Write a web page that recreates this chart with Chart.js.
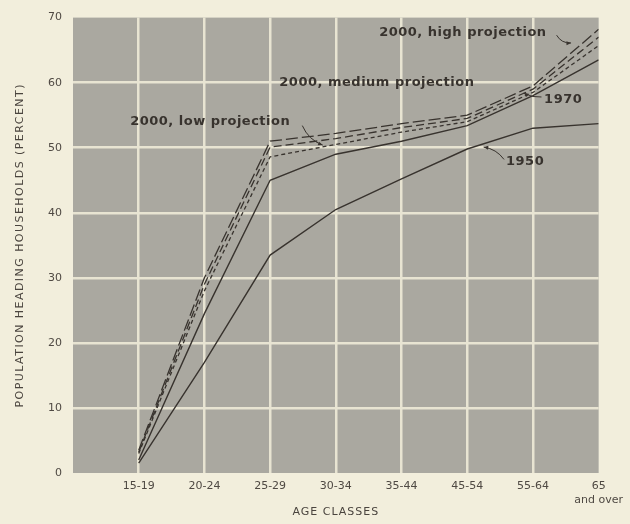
<!DOCTYPE html>
<html>
<head>
<meta charset="utf-8">
<script src="https://cdn.jsdelivr.net/npm/chart.js@4/dist/chart.umd.min.js"></script>
<style>
  html, body { margin: 0; padding: 0; background: #f2eedc; }
  canvas { display: block; }
</style>
</head>
<body>
<canvas id="myChart" width="630" height="524"></canvas>
<script>
// age classes along the bottom, first slot on the axis is left empty
const AGE_CLASSES = ['15-19', '20-24', '25-29', '30-34', '35-44', '45-54', '55-64', ['65', 'and over']];
const Y_TICKS = [0, 10, 20, 30, 40, 50, 60, 70];

// percent of population heading households
const HH_1950 = [1.5, 17, 33.5, 40.5, 45.2, 49.8, 53, 53.7];
const HH_1970 = [2, 24.5, 45, 49, 51, 53.4, 58, 63.5];
const HH_2000_HIGH = [3.5, 30, 51, 52.2, 53.7, 55, 59.5, 68.2];
const HH_2000_MED = [3.2, 29, 50.1, 51.4, 53.1, 54.5, 59, 67];
const HH_2000_LOW = [3, 28, 48.6, 50.5, 52.4, 54, 58.5, 65.7];

const INK = '#38332e';
const FONT = '"DejaVu Sans", sans-serif';

function points(arr) {
    return arr.map((v, i) => ({ x: i + 1, y: v }));
}

// labels and leader arrows, placed in axis units
const notes = [
    { text: '2000, high projection', x: 4.66, y: 67.7 },
    { text: '2000, medium projection', x: 3.14, y: 60.0 },
    { text: '2000, low projection', x: 0.87, y: 54.0 },
    { text: '1970', x: 7.17, y: 57.4 },
    { text: '1950', x: 6.59, y: 47.8 }
];
const arrows = [
    { from: [7.36, 67.3], to: [7.58, 66.1], bend: -5 },
    { from: [3.49, 53.4], to: [3.80, 50.4], bend: -6 },
    { from: [7.13, 57.8], to: [6.86, 58.4], bend: 3 },
    { from: [6.56, 48.2], to: [6.25, 50.1], bend: -5 }
];

const paperPlugin = {
    id: 'paper',
    beforeDraw(chart) {
        const ctx = chart.ctx, a = chart.chartArea;
        ctx.save();
        ctx.fillStyle = '#f2eedc';
        ctx.fillRect(0, 0, chart.width, chart.height);
        ctx.fillStyle = '#aaa8a0';
        ctx.fillRect(a.left, a.top, a.right - a.left, a.bottom - a.top);
        ctx.restore();
    },
    afterDraw(chart) {
        const ctx = chart.ctx, a = chart.chartArea;
        const xs = chart.scales.x, ys = chart.scales.y;
        ctx.save();
        ctx.fillStyle = INK;
        ctx.strokeStyle = INK;

        // notes
        ctx.font = 'bold 13px ' + FONT;
        ctx.letterSpacing = '0.5px';
        ctx.textAlign = 'left';
        ctx.textBaseline = 'middle';
        notes.forEach(n => {
            ctx.fillText(n.text, xs.getPixelForValue(n.x), ys.getPixelForValue(n.y));
        });

        // leader arrows
        ctx.lineWidth = 1;
        arrows.forEach(ar => {
            const x0 = xs.getPixelForValue(ar.from[0]), y0 = ys.getPixelForValue(ar.from[1]);
            const x1 = xs.getPixelForValue(ar.to[0]), y1 = ys.getPixelForValue(ar.to[1]);
            const mx = (x0 + x1) / 2, my = (y0 + y1) / 2;
            const len = Math.hypot(x1 - x0, y1 - y0);
            const cx = mx + ar.bend * (y1 - y0) / len;
            const cy = my - ar.bend * (x1 - x0) / len;
            ctx.beginPath();
            ctx.moveTo(x0, y0);
            ctx.quadraticCurveTo(cx, cy, x1, y1);
            ctx.stroke();
            const ang = Math.atan2(y1 - cy, x1 - cx);
            ctx.beginPath();
            ctx.moveTo(x1, y1);
            ctx.lineTo(x1 - 5 * Math.cos(ang - 0.4), y1 - 5 * Math.sin(ang - 0.4));
            ctx.lineTo(x1 - 5 * Math.cos(ang + 0.4), y1 - 5 * Math.sin(ang + 0.4));
            ctx.closePath();
            ctx.fill();
        });

        // axis titles
        ctx.fillStyle = '#4a443e';
        ctx.font = '11px ' + FONT;
        ctx.textAlign = 'center';
        ctx.letterSpacing = '1.45px';
        ctx.save();
        ctx.translate(20, (a.top + a.bottom) / 2);
        ctx.rotate(-Math.PI / 2);
        ctx.fillText('POPULATION HEADING HOUSEHOLDS (PERCENT)', 0, 0);
        ctx.restore();
        ctx.letterSpacing = '1px';
        ctx.fillText('AGE CLASSES', (a.left + a.right) / 2, 512);
        ctx.restore();
    }
};

function line(label, data, dash, width) {
    return {
        label: label,
        data: points(data),
        borderColor: INK,
        borderWidth: width,
        borderDash: dash,
        pointRadius: 0,
        fill: false,
        tension: 0
    };
}

const CHART = document.getElementById('myChart');
const myChart = new Chart(CHART, {
    type: 'line',
    data: {
        datasets: [
            line('1950', HH_1950, [], 1.4),
            line('1970', HH_1970, [], 1.4),
            line('2000, high projection', HH_2000_HIGH, [12, 4], 1.3),
            line('2000, medium projection', HH_2000_MED, [8, 4], 1.3),
            line('2000, low projection', HH_2000_LOW, [4, 3], 1.3)
        ]
    },
    options: {
        responsive: false,
        animation: false,
        layout: { padding: { left: 0, right: 30, top: 12, bottom: 0 } },
        plugins: {
            legend: { display: false },
            tooltip: { enabled: false }
        },
        scales: {
            x: {
                type: 'linear',
                min: 0,
                max: AGE_CLASSES.length,
                afterBuildTicks: s => { s.ticks = AGE_CLASSES.map((c, i) => ({ value: i })).concat([{ value: AGE_CLASSES.length }]); },
                afterFit: s => { s.height = 51; },
                border: { display: false },
                grid: {
                    drawTicks: false,
                    lineWidth: 2.5,
                    color: c => (c.tick.value === 0 || c.tick.value === AGE_CLASSES.length) ? 'rgba(0,0,0,0)' : '#e8e4d2'
                },
                ticks: {
                    padding: 7,
                    autoSkip: false,
                    maxRotation: 0,
                    color: '#4f4943',
                    font: { family: FONT, size: 11 },
                    callback: v => v >= 1 ? AGE_CLASSES[v - 1] : ''
                }
            },
            y: {
                min: 0,
                max: 70,
                afterBuildTicks: s => { s.ticks = Y_TICKS.map(v => ({ value: v })); },
                afterFit: s => { s.width = 73; },
                border: { display: false },
                grid: {
                    drawTicks: false,
                    lineWidth: 2.5,
                    color: c => (c.tick.value === 0 || c.tick.value === 70) ? 'rgba(0,0,0,0)' : '#e8e4d2'
                },
                ticks: {
                    padding: 11,
                    color: '#4f4943',
                    font: { family: FONT, size: 11 }
                }
            }
        }
    },
    plugins: [paperPlugin]
});
</script>
</body>
</html>
